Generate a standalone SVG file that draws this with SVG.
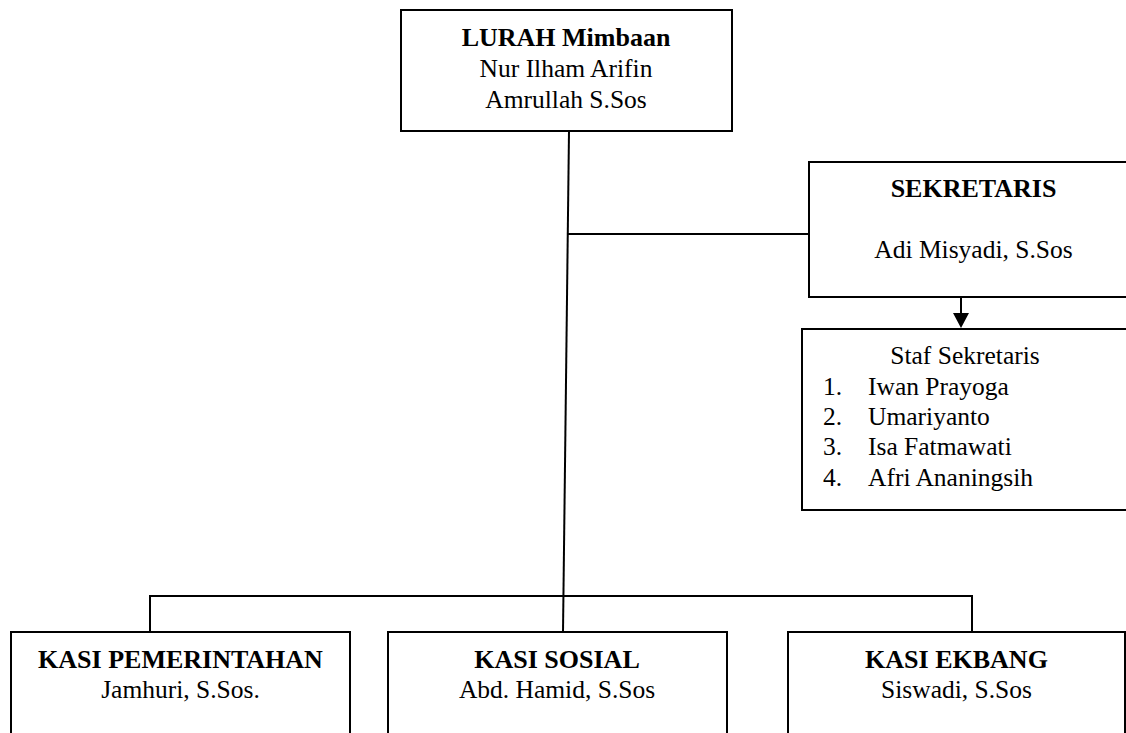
<svg xmlns="http://www.w3.org/2000/svg" width="1126" height="733" viewBox="0 0 1126 733">
<style>
.box{fill:#fff;stroke:#000;stroke-width:2}
.ln{fill:none;stroke:#000;stroke-width:2}
text{font-family:"Liberation Serif","Times New Roman",serif;font-size:25.5px;fill:#000}
.b{font-weight:bold;font-size:26px}
.c{text-anchor:middle}
</style>
<defs>
<marker id="ah" markerWidth="8" markerHeight="8" refX="7.5" refY="4" orient="auto" markerUnits="userSpaceOnUse" viewBox="0 0 8 8">
<path d="M0,0 L8,4 L0,8 Z" fill="#000"/>
</marker>
</defs>
<rect width="1126" height="733" fill="#fff"/>
<g id="connectors">
<line class="ln" x1="569" y1="131" x2="563" y2="632"/>
<line class="ln" x1="567" y1="234" x2="809" y2="234"/>
<line class="ln" x1="150" y1="596" x2="972" y2="596"/>
<line class="ln" x1="150" y1="595" x2="150" y2="632"/>
<line class="ln" x1="972" y1="595" x2="972" y2="632"/>
<line class="ln" x1="961" y1="297" x2="961" y2="316"/>
<path d="M953,313 L969,313 L961,328 Z" fill="#000"/>
</g>
<g id="lurah">
<rect class="box" x="401" y="10" width="331" height="121"/>
<text class="b c" x="566" y="46">LURAH Mimbaan</text>
<text class="c" x="566" y="77">Nur Ilham Arifin</text>
<text class="c" x="566" y="108">Amrullah S.Sos</text>
</g>
<g id="sekretaris">
<rect class="box" x="809" y="162" width="330" height="135"/>
<text class="b c" x="973.5" y="197">SEKRETARIS</text>
<text class="c" x="973.5" y="258">Adi Misyadi, S.Sos</text>
</g>
<g id="staf">
<rect class="box" x="802" y="329" width="340" height="181"/>
<text class="c" x="965" y="364">Staf Sekretaris</text>
<text x="823" y="395">1.</text><text x="868" y="395">Iwan Prayoga</text>
<text x="823" y="425">2.</text><text x="868" y="425">Umariyanto</text>
<text x="823" y="455">3.</text><text x="868" y="455">Isa Fatmawati</text>
<text x="823" y="486">4.</text><text x="868" y="486">Afri Ananingsih</text>
</g>
<g id="kasi-pemerintahan">
<rect class="box" x="11" y="632" width="339" height="120"/>
<text class="b c" x="180.5" y="668">KASI PEMERINTAHAN</text>
<text class="c" x="180.5" y="698">Jamhuri, S.Sos.</text>
</g>
<g id="kasi-sosial">
<rect class="box" x="388" y="632" width="339" height="120"/>
<text class="b c" x="557" y="668">KASI SOSIAL</text>
<text class="c" x="557" y="698">Abd. Hamid, S.Sos</text>
</g>
<g id="kasi-ekbang">
<rect class="box" x="788" y="632" width="337" height="120"/>
<text class="b c" x="956.5" y="668">KASI EKBANG</text>
<text class="c" x="956.5" y="698">Siswadi, S.Sos</text>
</g>
</svg>
